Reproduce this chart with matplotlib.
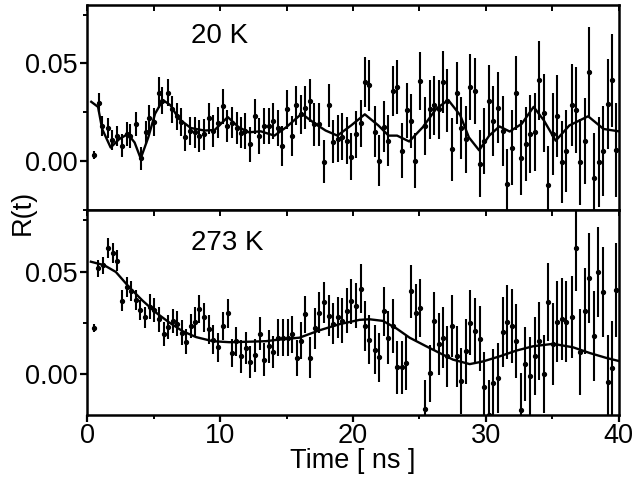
import numpy as np
import matplotlib
matplotlib.use("Agg")
import matplotlib.pyplot as plt
from matplotlib.ticker import MultipleLocator, FormatStrFormatter

plt.rcParams['font.family'] = ['Liberation Sans', 'DejaVu Sans']

# ---- 20 K data (time in ns, R(t), error) ----
t_20 = [0.53, 0.90, 1.15, 1.60, 1.90, 2.23, 2.60, 2.99, 3.24, 3.67, 4.04, 4.42, 4.67, 5.05,
        5.37, 5.62, 6.05, 6.38, 6.75, 7.06, 7.38, 7.76, 8.14, 8.44, 8.81, 9.14, 9.49, 9.82,
        10.20, 10.52, 10.90, 11.25, 11.58, 11.90, 12.25, 12.63, 12.96, 13.33, 13.66, 14.01,
        14.34, 14.67, 15.04, 15.39, 15.72, 16.10, 16.42, 16.78, 17.10, 17.48, 17.80, 18.18,
        18.53, 18.86, 19.19, 19.53, 19.86, 20.24, 20.57, 20.92, 21.24, 21.62, 21.94, 22.30,
        22.62, 23.00, 23.33, 23.68, 24.05, 24.38, 24.70, 25.06, 25.39, 25.76, 26.09, 26.44,
        26.77, 27.10, 27.44, 27.82, 28.15, 28.53, 28.83, 29.15, 29.53, 29.85, 30.21, 30.53,
        30.91, 31.28, 31.62, 31.96, 32.29, 32.62, 32.99, 33.35, 33.70, 34.00, 34.37, 34.67,
        35.05, 35.38, 35.73, 36.06, 36.44, 36.76, 37.11, 37.46, 37.79, 38.12, 38.49, 38.82,
        39.19, 39.52, 39.82]
r_20 = [0.003, 0.030, 0.018, 0.017, 0.011, 0.013, 0.008, 0.014, 0.013, 0.019, 0.0014, 0.0147,
        0.022, 0.020, 0.035, 0.031, 0.035, 0.0265, 0.023, 0.020, 0.0124, 0.0155, 0.0147, 0.0129,
        0.0138, 0.022, 0.0155, 0.0197, 0.028, 0.018, 0.0197, 0.017, 0.0146, 0.0155, 0.0087,
        0.023, 0.0129, 0.018, 0.018, 0.0206, 0.017, 0.0078, 0.0265, 0.0129, 0.0286, 0.024,
        0.0274, 0.031, 0.0189, 0.0189, -0.0003, 0.0286, 0.0099, 0.0116, 0.0126, 0.0104, 0.0024,
        0.0138, 0.0194, 0.0405, 0.0388, 0.015, 0.0002, 0.0177, 0.0104, 0.0359, 0.038, 0.0053,
        0.026, 0.0206, 0.0002, 0.041, 0.018, 0.0265, 0.0286, 0.0265, 0.0405, 0.031, 0.0061,
        0.035, 0.017, 0.0112, 0.038, 0.036, -0.0012, 0.0104, 0.031, 0.0206, 0.0274, 0.0155,
        -0.0117, 0.007, 0.035, 0.0019, 0.0087, 0.0138, 0.015, 0.0413, 0.0248, -0.0122, 0.0138,
        0.0231, -0.0003, 0.0053, 0.0286, 0.026, -0.0003, 0.0104, 0.0456, -0.0087, -0.0003,
        0.0053, 0.0294, 0.0413, 0.0056]
e_20 = [0.002, 0.005, 0.005, 0.005, 0.005, 0.005, 0.006, 0.006, 0.006, 0.006, 0.006, 0.006,
        0.007, 0.007, 0.008, 0.007, 0.007, 0.007, 0.007, 0.007, 0.007, 0.007, 0.008, 0.008,
        0.008, 0.008, 0.008, 0.008, 0.009, 0.008, 0.008, 0.008, 0.008, 0.009, 0.009, 0.009,
        0.009, 0.009, 0.009, 0.009, 0.009, 0.010, 0.010, 0.010, 0.010, 0.010, 0.011, 0.011,
        0.011, 0.011, 0.011, 0.011, 0.011, 0.012, 0.012, 0.012, 0.012, 0.012, 0.012, 0.013,
        0.013, 0.013, 0.013, 0.013, 0.013, 0.013, 0.014, 0.014, 0.014, 0.014, 0.014, 0.015,
        0.015, 0.015, 0.015, 0.015, 0.016, 0.016, 0.016, 0.016, 0.016, 0.017, 0.017, 0.017,
        0.017, 0.017, 0.018, 0.018, 0.018, 0.018, 0.018, 0.019, 0.019, 0.019, 0.019, 0.020,
        0.020, 0.020, 0.020, 0.020, 0.021, 0.021, 0.021, 0.021, 0.021, 0.022, 0.022, 0.022,
        0.023, 0.023, 0.023, 0.023, 0.023, 0.024, 0.024]

# fitted curve, 20 K
fit_t_20 = [0.31, 0.82, 1.13, 1.77, 2.41, 3.06, 3.57, 4.03, 4.6, 5.11, 5.7, 6.26, 6.9, 7.8,
            8.83, 9.6, 10.58, 11.4, 12.17, 13.06, 14.09, 14.98, 16.14, 17.17, 17.94, 18.83,
            19.86, 20.89, 21.91, 22.68, 23.32, 24.23, 25.25, 26.27, 27.17, 28.07, 28.72,
            29.49, 30.25, 31.02, 31.79, 32.69, 33.59, 34.36, 35.25, 36.28, 37.69, 38.85, 40.0]
fit_r_20 = [0.0304, 0.0278, 0.0165, 0.0070, 0.0113, 0.0139, 0.0096, 0.0014, 0.0122, 0.0243,
            0.0313, 0.0287, 0.0217, 0.0170, 0.0157, 0.0160, 0.0226, 0.0174, 0.0148, 0.0153,
            0.0131, 0.0174, 0.0243, 0.0191, 0.0157, 0.0131, 0.0183, 0.0240, 0.0183, 0.0131,
            0.0131, 0.0101, 0.0174, 0.0269, 0.0313, 0.0235, 0.0122, 0.0056, 0.0131, 0.0178,
            0.0152, 0.0191, 0.0278, 0.0209, 0.0105, 0.0183, 0.0230, 0.0165, 0.0153]

# ---- 273 K data ----
t_273 = [0.53, 0.85, 1.23, 1.58, 1.91, 2.28, 2.61, 2.99, 3.29, 3.67, 3.99, 4.37, 4.72, 5.05,
         5.42, 5.75, 6.05, 6.43, 6.76, 7.13, 7.43, 7.81, 8.14, 8.44, 8.76, 9.14, 9.49, 9.82,
         10.19, 10.57, 10.90, 11.20, 11.58, 11.95, 12.28, 12.66, 13.01, 13.33, 13.66, 14.01,
         14.39, 14.71, 15.09, 15.42, 15.77, 16.10, 16.42, 16.78, 17.15, 17.48, 17.80, 18.18,
         18.53, 18.86, 19.19, 19.53, 19.86, 20.24, 20.57, 20.94, 21.24, 21.62, 21.94, 22.30,
         22.62, 23.00, 23.33, 23.68, 24.01, 24.38, 24.71, 25.06, 25.44, 25.76, 26.09, 26.44,
         26.77, 27.10, 27.44, 27.82, 28.15, 28.53, 28.83, 29.20, 29.53, 29.85, 30.21, 30.53,
         30.91, 31.28, 31.62, 31.96, 32.29, 32.62, 32.96, 33.30, 33.67, 34.00, 34.37, 34.67,
         35.05, 35.38, 35.73, 36.06, 36.44, 36.76, 37.11, 37.46, 37.79, 38.14, 38.47, 38.82,
         39.15, 39.52, 39.82]
r_273 = [0.0223, 0.0515, 0.053, 0.0614, 0.059, 0.0553, 0.0358, 0.0424, 0.0404, 0.0361, 0.0312,
         0.0276, 0.0328, 0.0312, 0.0267, 0.0196, 0.0229, 0.0259, 0.0246, 0.0201, 0.0157, 0.0234,
         0.0256, 0.0317, 0.0276, 0.0218, 0.0168, 0.013, 0.0234, 0.0296, 0.0102, 0.016, 0.0086,
         0.0127, 0.0058, 0.0091, 0.0196, 0.0069, 0.0135, 0.0107, 0.0177, 0.0177, 0.0177, 0.0193,
         0.0078, 0.0163, 0.0292, 0.0078, 0.0223, 0.030, 0.035, 0.0284, 0.0246, 0.0276, 0.0259,
         0.0309, 0.0355, 0.0333, 0.0416, 0.0234, 0.0168, 0.0119, 0.0081, 0.0305, 0.0177, 0.0234,
         0.0033, 0.0033, 0.0053, 0.0404, 0.030, 0.0322, -0.017, 0.0003, 0.0259, 0.0147, 0.0177,
         0.0086, 0.0234, 0.0086, -0.0035, 0.011, 0.0251, 0.0209, 0.0173, -0.0063, -0.020,
         -0.0046, -0.0021, 0.0206, 0.0254, 0.0234, 0.016, -0.0175, 0.005, -0.001, 0.0086, 0.016,
         0.0, 0.035, 0.0144, 0.0256, 0.0267, 0.0256, 0.0276, 0.0614, 0.0106, 0.0305, 0.047,
         0.0185, 0.0498, 0.040, -0.0038, 0.0028, 0.041]
e_273 = [0.002, 0.004, 0.004, 0.005, 0.005, 0.005, 0.005, 0.005, 0.005, 0.005, 0.005, 0.005,
         0.006, 0.006, 0.006, 0.006, 0.006, 0.006, 0.006, 0.006, 0.006, 0.006, 0.007, 0.007,
         0.007, 0.007, 0.007, 0.007, 0.007, 0.007, 0.007, 0.007, 0.008, 0.008, 0.008, 0.008,
         0.008, 0.008, 0.008, 0.008, 0.009, 0.009, 0.009, 0.009, 0.009, 0.009, 0.009, 0.010,
         0.010, 0.010, 0.010, 0.010, 0.010, 0.010, 0.011, 0.011, 0.011, 0.011, 0.012, 0.012,
         0.012, 0.012, 0.012, 0.012, 0.013, 0.013, 0.013, 0.013, 0.013, 0.013, 0.014, 0.014,
         0.014, 0.014, 0.014, 0.015, 0.015, 0.015, 0.015, 0.015, 0.016, 0.016, 0.016, 0.016,
         0.016, 0.017, 0.017, 0.017, 0.017, 0.017, 0.018, 0.018, 0.018, 0.018, 0.018, 0.019,
         0.019, 0.019, 0.019, 0.019, 0.020, 0.020, 0.020, 0.020, 0.020, 0.021, 0.021, 0.021,
         0.022, 0.022, 0.022, 0.022, 0.023, 0.023, 0.023]

# fitted curve, 273 K
fit_t_273 = [0.28, 1.28, 2.16, 3.16, 4.17, 5.17, 6.18, 7.18, 8.19, 9.44, 10.7, 12.0, 13.46,
             14.46, 15.97, 17.48, 18.98, 20.49, 21.24, 22.25, 23.25, 24.26, 25.51, 27.02,
             27.52, 28.78, 29.78, 31.04, 32.29, 33.54, 35.05, 36.56, 37.82, 39.07, 39.95]
fit_r_273 = [0.0548, 0.0531, 0.0498, 0.0424, 0.0358, 0.030, 0.0251, 0.0209, 0.018, 0.016,
             0.0155, 0.0157, 0.016, 0.0168, 0.0177, 0.0213, 0.0243, 0.0264, 0.0267, 0.0259,
             0.0223, 0.0177, 0.0135, 0.0086, 0.0070, 0.0048, 0.0061, 0.0086, 0.0114, 0.0135,
             0.0147, 0.013, 0.0102, 0.0078, 0.0064]

panels = [
    ("20 K", t_20, r_20, e_20, fit_t_20, fit_r_20, (-0.025, 0.08)),
    ("273 K", t_273, r_273, e_273, fit_t_273, fit_r_273, (-0.02, 0.08)),
]

fig = plt.figure(figsize=(6.36, 4.83), dpi=100)
left, width = 0.137, 0.836
ax_top = fig.add_axes([left, 0.565, width, 0.425])
ax_bot = fig.add_axes([left, 0.141, width, 0.424])

for ax, (label, t, r, e, ft, fr, ylim) in zip([ax_top, ax_bot], panels):
    ax.errorbar(t, r, yerr=e, fmt='o', color='black', ms=2.8, elinewidth=1.5,
                capsize=0, zorder=2)
    ax.plot(ft, fr, color='black', lw=1.7, zorder=3, solid_joinstyle='round')
    ax.set_xlim(0, 40)
    ax.set_ylim(*ylim)
    ax.text(7.8, 0.064, label, fontsize=20, va='center', ha='left')

    for sp in ax.spines.values():
        sp.set_linewidth(1.8)

    ax.xaxis.set_major_locator(MultipleLocator(10))
    ax.xaxis.set_minor_locator(MultipleLocator(5))
    ax.yaxis.set_major_locator(MultipleLocator(0.05))
    ax.yaxis.set_minor_locator(MultipleLocator(0.025))
    ax.yaxis.set_major_formatter(FormatStrFormatter('%.2f'))
    ax.tick_params(axis='y', which='major', direction='out', length=5, width=1.6,
                   labelsize=19.5, pad=2)
    ax.tick_params(axis='y', which='minor', direction='out', length=3, width=1.4)
    ax.tick_params(axis='x', which='major', direction='out', length=5, width=1.6,
                   labelsize=19.5, pad=1)
    ax.tick_params(axis='x', which='minor', direction='out', length=3, width=1.4)

    sec = ax.secondary_xaxis('top')
    sec.xaxis.set_major_locator(MultipleLocator(5))
    sec.tick_params(direction='in', length=4, width=1.4, labeltop=False)

ax_top.tick_params(axis='x', which='both', bottom=False, labelbottom=False)
ax_bot.set_xlabel('Time [ ns ]', fontsize=19.5, labelpad=-1)
fig.text(0.035, 0.561, 'R(t)', rotation=90, fontsize=19.5, ha='center', va='center')

fig.savefig('out.png', dpi=100)
